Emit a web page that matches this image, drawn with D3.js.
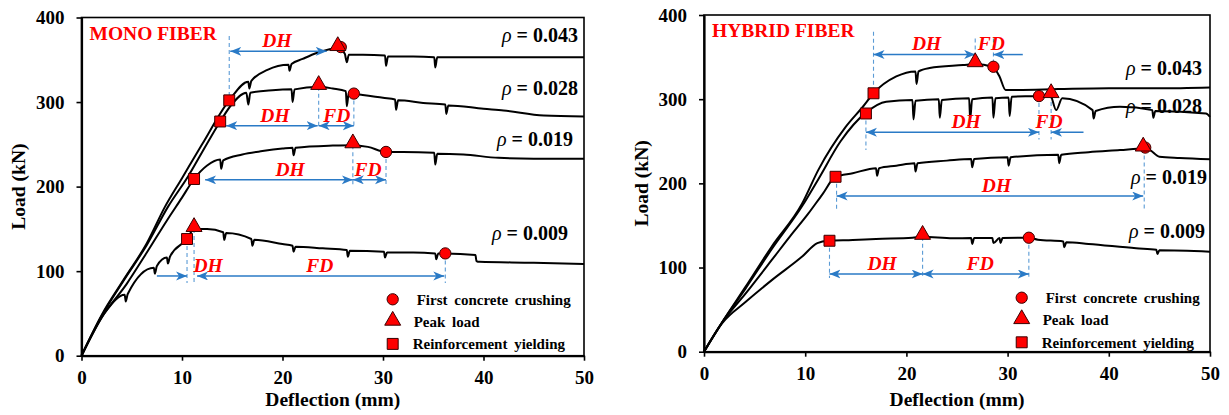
<!DOCTYPE html>
<html><head><meta charset="utf-8">
<script src="https://cdn.jsdelivr.net/npm/d3@7"></script>
<style>
body{margin:0;background:#fff;}
text{font-family:"Liberation Serif","Times New Roman",serif;}
</style></head>
<body>
<script>
// ---------- DATA ----------
const xTicks = [0,10,20,30,40,50];
const yTicks = [0,100,200,300,400];
const seriesNames = ["0.043","0.028","0.019","0.009"];

// MONO FIBER curves  [deflection (mm), load (kN)]
const mono043 = [[0,0],[2,48],[4.2,90],[6.5,133],[8.3,176],[10,210],[12,250],[14.7,302],[16.6,324],[16.7,316],[16.9,325],[18.5,338],[20.6,344],[20.7,337],[20.9,345],[22,351],[23.4,358],[25.5,364],[26.2,357],[26.4,347],[26.6,356],[28,356],[30.2,355],[30.3,343],[30.5,354],[33,354],[35.1,353],[35.2,341],[35.4,353],[40,353],[45,353],[50,353]];
const mono028 = [[0,0],[2,47],[4.2,89],[6.5,131],[8.6,176],[10.6,212],[12.5,251],[13.8,277],[15,298],[16.4,311],[16.6,297],[16.8,311],[19,314],[20.9,315],[21,300],[21.2,315],[23.6,318],[25,316],[26.3,313],[26.4,295],[26.6,311],[27.1,310],[30,305],[31.2,303],[31.3,291],[31.5,302],[34,299],[36.2,297],[36.3,286],[36.5,296],[40,292],[42,290],[46,284],[50,283]];
const mono019 = [[0,0],[2,45],[4.5,85],[6.5,122],[8.5,160],[10,187],[11.2,209],[12.5,225],[13.8,232],[13.9,221],[14.1,231],[16,238],[18,242],[20,245],[21,246],[21.1,237],[21.3,246],[25,248.5],[27,249],[28.5,247],[30.3,241],[32,241],[35.1,240],[35.2,226],[35.4,239],[38,238],[41.5,234],[45,233],[50,233]];
const mono009 = [[0,0],[2.4,52],[4.3,72],[4.4,64],[4.6,73],[7.2,104],[7.3,97],[7.5,106],[8.5,116],[8.6,109],[8.8,117],[10.5,138],[11.2,150],[12.5,150],[14.1,146],[14.2,137],[14.4,145],[16.9,138],[17,130],[17.2,137],[20,132],[21,130],[21.1,123],[21.3,129],[24,127],[26.4,125],[26.5,117],[26.7,124],[30.1,123],[30.2,116],[30.4,122],[33,122],[35.2,121],[35.3,114],[35.5,121],[36.2,121],[39.2,119],[39.3,112],[39.6,111],[45,110],[50,108.5]];

// HYBRID FIBER curves
const hyb043 = [[0,0],[1.8,35],[4.1,77],[6.7,125],[9.7,176],[11.3,216],[14,267],[15.7,291],[16.75,307],[19,327],[20.9,333],[21,318],[21.2,333],[22.3,337],[25.6,340.5],[26.8,341.7],[28.5,338.5],[29.2,327],[29.8,311],[31,311],[35,312],[40,313],[45,313],[50,314]];
const hyb028 = [[0,0],[1.8,35],[4.1,75],[6.7,122],[9.7,173],[11.3,205],[13.5,250],[16,284],[18,297],[20.6,299],[20.7,276],[20.9,298],[23.2,300],[23.3,278],[23.5,299],[26.2,301],[26.3,276],[26.5,300],[28.5,302],[28.6,278],[28.8,301],[30.1,302],[30.2,280],[30.4,303],[33.1,303.7],[34.2,305],[34.8,287],[35.4,301],[38.4,287],[38.5,277],[38.7,286],[41.1,291],[44.3,287],[44.4,278],[44.6,286],[49.6,283],[50,279]];
const hyb019 = [[0,0],[1.8,35],[4.1,69],[6.7,109],[8.5,137],[10.3,164],[11.7,187],[13,207.8],[14.7,212],[17,218],[17.1,209],[17.3,218],[19,221],[20.8,224],[20.9,214],[21.1,224],[24,227],[26.4,229],[26.5,219],[26.7,229],[30,231],[30.1,221],[30.3,231],[35,234],[35.1,224],[35.3,234],[38,237],[41.1,239.5],[43.5,241.5],[44,240],[45,231.6],[47,230],[50,228.5]];
const hyb009 = [[0,0],[1.8,34],[4.1,59],[6.7,85],[9.7,113],[11.2,129],[12.3,131.8],[14.7,132.7],[17,134],[20.6,135.4],[21.6,136.6],[24.6,134.7],[26.4,135],[26.5,128],[26.7,135],[28.5,135],[28.6,129],[29.2,135],[29.3,129],[29.5,135],[32.1,135.4],[33,133],[35.5,131],[35.6,124],[35.8,130],[38,128],[42.7,122.8],[44.7,121],[44.8,116],[45,120.5],[50,118.8]];

// Key points (deflection, load) per series 0.043, 0.028, 0.019, 0.009
const monoCrush = [[25.8,365],[27.1,310],[30.3,241],[36.2,121]];
const monoPeak  = [[25.5,364],[23.6,318],[27.0,249],[11.2,150]];
const monoYield = [[14.7,302],[13.8,277],[11.2,209],[10.5,138]];
const hybCrush  = [[28.6,338.5],[33.1,303.7],[43.6,242.5],[32.1,135.4]];
const hybPeak   = [[26.8,341.7],[34.3,305],[43.4,241.5],[21.6,136.6]];
const hybYield  = [[16.75,307],[16.0,283],[13.0,207.8],[12.4,131.8]];

// annotations: arrows [x1, x2, load, heads], dashed guides [x, fromLoad, toLoad], labels [text, x, load]
const monoArrows = [[14.8,24.4,360,"both"],[14.4,23.5,272,"both"],[23.6,27.1,272,"both"],[12.3,27.0,208,"both"],[27.0,30.3,208,"both"],[7.5,10.5,94.3,"end"],[11.5,36.1,94.3,"both"]];
const monoGuides = [[14.7,378,302],[23.6,318,270],[27.1,310,270],[27.0,249,200],[30.3,241,200],[10.5,138,86],[11.2,150,86],[36.2,121,86]];
const monoLabels = [["DH",19.45,360],["DH",19.25,272],["FD",25.4,272],["DH",20.75,208],["FD",28.5,208],["DH",12.6,94.3],["FD",23.7,94.3]];
const hybArrows = [[16.75,26.8,353.2,"both"],[31.5,28.6,353,"end"],[16.0,33.1,260.6,"both"],[37.5,34.3,260.6,"end"],[13.1,43.4,184.9,"both"],[12.4,21.6,92.3,"both"],[21.6,32.1,92.3,"both"]];
const hybGuides = [[16.75,380,307],[26.8,372,341.7],[28.6,372,338.5],[16.0,283,239.5],[33.1,303.7,252],[34.3,305,252],[13.1,207.8,168],[43.5,241.5,168],[12.4,131.8,87.5],[21.6,136.6,87.5],[32.1,135.4,87.5]];
const hybLabels = [["DH",22.0,353.2],["FD",28.4,353.2],["DH",25.9,260.6],["FD",34.1,260.6],["DH",28.9,184.9],["DH",17.6,92.3],["FD",27.3,92.3]];
const legendItems = ["First concrete crushing","Peak load","Reinforcement yielding"];

// ---------- DRAW ----------
const W = 1229, H = 415;
const BLUE = "#2a7ac6", GUIDE = "#5b9bd5", RED = "#ff0000";
const svg = d3.select("body").append("svg").attr("width", W).attr("height", H);
const defs = svg.append("defs");
defs.append("marker").attr("id","ah").attr("markerUnits","userSpaceOnUse")
  .attr("markerWidth",12).attr("markerHeight",10).attr("refX",11).attr("refY",4.5)
  .attr("orient","auto-start-reverse")
  .append("path").attr("d","M0,0 L11,4.5 L0,9 L3,4.5 Z").attr("fill",BLUE);

function panel(o) {
  const x = d3.scaleLinear().domain([0,50]).range([o.x0, o.x1]);
  const y = d3.scaleLinear().domain([0,400]).range([o.y0, o.y1]);
  const g = svg.append("g");

  // box
  g.append("rect").attr("x",o.x0).attr("y",o.y1).attr("width",o.x1-o.x0).attr("height",o.y0-o.y1)
    .attr("fill","none").attr("stroke","#000").attr("stroke-width",1.6);

  const ax = g.append("g").attr("transform",`translate(0,${o.y0})`)
    .call(d3.axisBottom(x).tickValues(xTicks).tickSize(5).tickSizeOuter(0).tickPadding(10));
  const ay = g.append("g").attr("transform",`translate(${o.x0},0)`)
    .call(d3.axisLeft(y).tickValues(yTicks).tickSize(5).tickSizeOuter(0).tickPadding(12));
  [ax, ay].forEach(a => {
    a.select(".domain").attr("stroke","#000").attr("stroke-width",2.2);
    a.selectAll(".tick line").attr("stroke","#000").attr("stroke-width",1.6);
    a.selectAll(".tick text").attr("font-family","Liberation Serif").attr("font-weight","bold")
      .attr("font-size",19).attr("fill","#000");
  });

  // axis titles
  g.append("text").attr("x",(o.x0+o.x1)/2).attr("y",406).attr("text-anchor","middle")
    .attr("font-weight","bold").attr("font-size",19.5).text("Deflection (mm)");
  g.append("text").attr("transform",`translate(${o.ytx},${(o.y0+o.y1)/2}) rotate(-90)`)
    .attr("text-anchor","middle").attr("dy","0.35em").attr("font-weight","bold").attr("font-size",19.5).text("Load (kN)");

  // panel title
  g.append("text").attr("x",o.x0+8).attr("y",o.y1+22).attr("fill",RED)
    .attr("font-weight","bold").attr("font-size",19.5).text(o.title);

  // guides
  g.selectAll(".guide").data(o.guides).join("line")
    .attr("x1",d=>x(d[0])).attr("x2",d=>x(d[0])).attr("y1",d=>y(d[1])).attr("y2",d=>y(d[2]))
    .attr("stroke",GUIDE).attr("stroke-width",1.1).attr("stroke-dasharray","4,3");

  // curves
  const line = d3.line().x(d=>x(d[0])).y(d=>y(d[1])).curve(d3.curveMonotoneX);
  o.curves.forEach(c => {
    g.append("path").datum(c).attr("d",line).attr("fill","none")
      .attr("stroke","#000").attr("stroke-width",2).attr("stroke-linejoin","round");
  });

  // arrows
  g.selectAll(".arr").data(o.arrows).join("line")
    .attr("x1",d=>x(d[0])).attr("x2",d=>x(d[1])).attr("y1",d=>y(d[2])).attr("y2",d=>y(d[2]))
    .attr("stroke",BLUE).attr("stroke-width",1.5)
    .attr("marker-end","url(#ah)")
    .attr("marker-start",d=>d[3]==="both"?"url(#ah)":null);

  // arrow labels
  g.selectAll(".lab").data(o.labels).join("text")
    .attr("x",d=>x(d[1])).attr("y",d=>y(d[2])-4).attr("text-anchor","middle")
    .attr("fill",RED).attr("font-weight","bold").attr("font-style","italic").attr("font-size",19.5)
    .text(d=>d[0]);

  // markers
  const sym = (type,size) => d3.symbol().type(type).size(size)();
  const mk = (pts,type,size,dy) => g.selectAll(null).data(pts).join("path")
    .attr("transform",d=>`translate(${x(d[0])},${y(d[1])+(dy||0)})`)
    .attr("d",sym(type,size)).attr("fill",RED).attr("stroke","#3a0000").attr("stroke-width",1);
  mk(o.crush,d3.symbolCircle,100);
  mk(o.peak,d3.symbolTriangle,110,-2);
  mk(o.yield,d3.symbolSquare,120);

  // rho labels
  o.rho.forEach((r,i) => {
    const t = g.append("text").attr("x",r[0]).attr("y",r[1]).attr("text-anchor","end")
      .attr("dy","0.35em").attr("font-size",20).attr("font-weight","bold");
    t.append("tspan").attr("font-style","italic").attr("font-weight","normal").text("ρ");
    t.append("tspan").text(" = " + seriesNames[i]);
  });

  // legend
  const types = [d3.symbolCircle,d3.symbolTriangle,d3.symbolSquare];
  const sizes = [100,110,120];
  legendItems.forEach((s,i) => {
    const ly = o.legY + i*22.3;
    g.append("path").attr("transform",`translate(${o.legX},${ly + (i===1?-1:0)})`)
      .attr("d",sym(types[i],sizes[i])).attr("fill",RED).attr("stroke","#3a0000").attr("stroke-width",1);
    g.append("text").attr("x",o.legX + [24,21,20][i]).attr("y",ly).attr("dy","0.35em")
      .attr("font-weight","bold").attr("font-size",15).attr("word-spacing",3).text(s);
  });
}

panel({x0:81.5, x1:584, y0:355.7, y1:17.5, ytx:18, title:"MONO FIBER",
  curves:[mono043,mono028,mono019,mono009], crush:monoCrush, peak:monoPeak, yield:monoYield,
  arrows:monoArrows, guides:monoGuides, labels:monoLabels,
  rho:[[578,35],[578,88],[573,139],[568,233]], legX:392.7, legY:299.3});

panel({x0:704, x1:1210, y0:351.7, y1:15, ytx:641, title:"HYBRID FIBER",
  curves:[hyb043,hyb028,hyb019,hyb009], crush:hybCrush, peak:hybPeak, yield:hybYield,
  arrows:hybArrows, guides:hybGuides, labels:hybLabels,
  rho:[[1202,68],[1202,106],[1207,177],[1205,231]], legX:1021.7, legY:297.7});
</script>
</body></html>
